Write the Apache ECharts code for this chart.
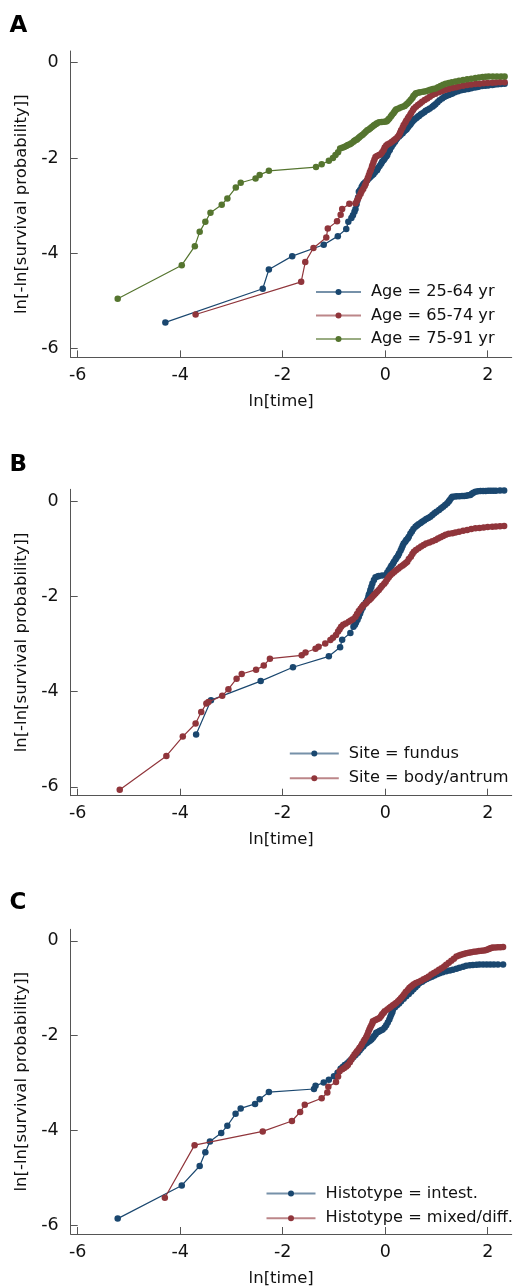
<!DOCTYPE html>
<html><head><meta charset="utf-8">
<script src="https://cdn.jsdelivr.net/npm/echarts@6/dist/echarts.min.js"></script>
<style>html,body{margin:0;padding:0;background:#fff}#c{width:516px;height:1288px}</style>
</head><body><div id="c"></div>
<script>
// ---------- tick labels ----------
const xTicks = [-6, -4, -2, 0, 2];
const yTicks = [-6, -4, -2, 0];

// ---------- Panel A: Age  ([ln(time), ln(-ln(S))] pairs) ----------
const ageYoung = [[-4.29,-5.45],[-2.39,-4.745],[-2.27,-4.34],[-1.815,-4.06],[-1.20,-3.82],[-0.925,-3.64],[-0.76,-3.49],[-0.72,-3.34],[-0.66,-3.26],[-0.63,-3.20],[-0.60,-3.13],[-0.58,-3.07],[-0.56,-2.97],[-0.545,-2.90],[-0.53,-2.83],[-0.515,-2.71],[-0.49,-2.67],[-0.46,-2.61],[-0.44,-2.57],[-0.42,-2.54],[-0.39,-2.51],[-0.35,-2.47],[-0.32,-2.43],[-0.29,-2.40],[-0.26,-2.37],[-0.23,-2.34],[-0.20,-2.30],[-0.16,-2.26],[-0.14,-2.21],[-0.11,-2.17],[-0.08,-2.12],[-0.06,-2.08],[-0.03,-2.04],[-0.01,-2.01],[0.02,-1.97],[0.04,-1.94],[0.06,-1.88],[0.09,-1.83],[0.12,-1.77],[0.14,-1.73],[0.16,-1.70],[0.19,-1.66],[0.21,-1.62],[0.23,-1.59],[0.27,-1.55],[0.30,-1.52],[0.34,-1.48],[0.37,-1.44],[0.40,-1.415],[0.42,-1.39],[0.45,-1.35],[0.48,-1.31],[0.50,-1.28],[0.53,-1.24],[0.56,-1.205],[0.58,-1.18],[0.61,-1.16],[0.64,-1.13],[0.66,-1.12],[0.69,-1.09],[0.72,-1.065],[0.76,-1.04],[0.79,-1.01],[0.83,-0.99],[0.87,-0.96],[0.92,-0.925],[0.95,-0.90],[0.98,-0.87],[1.02,-0.83],[1.06,-0.79],[1.11,-0.75],[1.15,-0.72],[1.19,-0.70],[1.24,-0.68],[1.28,-0.66],[1.31,-0.645],[1.36,-0.62],[1.42,-0.60],[1.48,-0.58],[1.53,-0.57],[1.57,-0.56],[1.62,-0.55],[1.68,-0.535],[1.75,-0.52],[1.80,-0.51],[1.83,-0.50],[1.89,-0.49],[1.95,-0.485],[2.01,-0.48],[2.09,-0.47],[2.14,-0.46],[2.20,-0.455],[2.26,-0.45],[2.33,-0.44]];

const ageMid = [[-3.70,-5.285],[-1.64,-4.60],[-1.56,-4.185],[-1.40,-3.89],[-1.15,-3.67],[-1.12,-3.48],[-0.94,-3.33],[-0.87,-3.19],[-0.84,-3.07],[-0.70,-2.96],[-0.58,-2.95],[-0.55,-2.90],[-0.53,-2.85],[-0.51,-2.81],[-0.48,-2.75],[-0.46,-2.70],[-0.43,-2.65],[-0.40,-2.59],[-0.38,-2.54],[-0.36,-2.48],[-0.34,-2.42],[-0.32,-2.36],[-0.30,-2.30],[-0.28,-2.25],[-0.26,-2.19],[-0.25,-2.15],[-0.23,-2.09],[-0.21,-2.03],[-0.19,-1.98],[-0.16,-1.96],[-0.12,-1.94],[-0.09,-1.92],[-0.06,-1.88],[-0.03,-1.83],[-0.01,-1.78],[0.02,-1.74],[0.05,-1.71],[0.09,-1.69],[0.13,-1.66],[0.17,-1.63],[0.20,-1.60],[0.24,-1.56],[0.27,-1.52],[0.29,-1.47],[0.31,-1.42],[0.34,-1.36],[0.36,-1.31],[0.39,-1.26],[0.41,-1.22],[0.44,-1.17],[0.46,-1.135],[0.49,-1.09],[0.51,-1.05],[0.54,-1.00],[0.56,-0.96],[0.60,-0.925],[0.64,-0.89],[0.68,-0.855],[0.72,-0.82],[0.77,-0.785],[0.82,-0.75],[0.87,-0.715],[0.92,-0.68],[0.98,-0.65],[1.05,-0.62],[1.11,-0.595],[1.18,-0.57],[1.24,-0.55],[1.31,-0.53],[1.38,-0.515],[1.44,-0.50],[1.52,-0.485],[1.60,-0.47],[1.68,-0.46],[1.76,-0.45],[1.84,-0.44],[1.92,-0.43],[2.00,-0.425],[2.09,-0.42],[2.16,-0.415],[2.24,-0.41],[2.33,-0.41]];

const ageOld = [[-5.22,-4.955],[-3.97,-4.25],[-3.715,-3.85],[-3.62,-3.55],[-3.51,-3.34],[-3.41,-3.15],[-3.19,-2.98],[-3.08,-2.85],[-2.915,-2.62],[-2.82,-2.52],[-2.53,-2.43],[-2.45,-2.355],[-2.27,-2.27],[-1.35,-2.19],[-1.24,-2.13],[-1.10,-2.06],[-1.02,-2.00],[-0.97,-1.94],[-0.92,-1.88],[-0.88,-1.80],[-0.84,-1.785],[-0.80,-1.77],[-0.76,-1.75],[-0.73,-1.73],[-0.69,-1.71],[-0.66,-1.69],[-0.62,-1.66],[-0.60,-1.64],[-0.57,-1.62],[-0.55,-1.61],[-0.52,-1.58],[-0.50,-1.56],[-0.47,-1.535],[-0.44,-1.51],[-0.41,-1.48],[-0.38,-1.45],[-0.35,-1.42],[-0.32,-1.40],[-0.29,-1.375],[-0.26,-1.35],[-0.23,-1.325],[-0.21,-1.31],[-0.18,-1.285],[-0.16,-1.27],[-0.12,-1.25],[-0.07,-1.245],[-0.02,-1.24],[0.02,-1.235],[0.04,-1.22],[0.06,-1.19],[0.08,-1.17],[0.11,-1.13],[0.13,-1.10],[0.16,-1.06],[0.18,-1.03],[0.20,-1.00],[0.22,-0.98],[0.26,-0.96],[0.30,-0.94],[0.34,-0.925],[0.38,-0.91],[0.41,-0.88],[0.44,-0.85],[0.47,-0.815],[0.50,-0.78],[0.53,-0.74],[0.55,-0.70],[0.58,-0.67],[0.60,-0.64],[0.64,-0.63],[0.68,-0.62],[0.74,-0.61],[0.79,-0.60],[0.84,-0.585],[0.88,-0.57],[0.93,-0.555],[0.98,-0.54],[1.03,-0.515],[1.08,-0.49],[1.13,-0.465],[1.18,-0.44],[1.24,-0.425],[1.30,-0.41],[1.37,-0.395],[1.44,-0.38],[1.52,-0.365],[1.60,-0.35],[1.68,-0.335],[1.76,-0.32],[1.83,-0.31],[1.90,-0.30],[1.96,-0.295],[2.02,-0.29],[2.10,-0.29],[2.18,-0.29],[2.26,-0.29],[2.33,-0.29]];

// ---------- Panel B: Site ----------
const siteFundus = [[-3.69,-4.90],[-3.40,-4.18],[-2.43,-3.78],[-1.80,-3.49],[-1.10,-3.26],[-0.88,-3.07],[-0.84,-2.91],[-0.68,-2.77],[-0.62,-2.64],[-0.59,-2.60],[-0.57,-2.55],[-0.54,-2.49],[-0.515,-2.43],[-0.49,-2.36],[-0.47,-2.30],[-0.44,-2.24],[-0.42,-2.185],[-0.38,-2.13],[-0.35,-2.08],[-0.33,-2.02],[-0.32,-1.97],[-0.30,-1.92],[-0.29,-1.87],[-0.27,-1.80],[-0.25,-1.73],[-0.22,-1.66],[-0.19,-1.60],[-0.15,-1.585],[-0.125,-1.575],[-0.06,-1.565],[0.01,-1.555],[0.04,-1.50],[0.07,-1.45],[0.10,-1.40],[0.12,-1.36],[0.15,-1.32],[0.17,-1.275],[0.20,-1.23],[0.22,-1.19],[0.25,-1.15],[0.27,-1.10],[0.30,-1.04],[0.32,-0.99],[0.34,-0.94],[0.36,-0.89],[0.39,-0.855],[0.41,-0.82],[0.44,-0.785],[0.46,-0.75],[0.49,-0.69],[0.52,-0.64],[0.55,-0.59],[0.59,-0.54],[0.62,-0.515],[0.65,-0.49],[0.69,-0.46],[0.72,-0.435],[0.76,-0.41],[0.80,-0.38],[0.84,-0.355],[0.88,-0.33],[0.92,-0.295],[0.96,-0.26],[1.00,-0.225],[1.05,-0.19],[1.09,-0.155],[1.13,-0.12],[1.17,-0.085],[1.21,-0.05],[1.24,-0.01],[1.26,0.02],[1.29,0.06],[1.31,0.09],[1.36,0.095],[1.40,0.10],[1.45,0.10],[1.50,0.105],[1.54,0.105],[1.58,0.11],[1.62,0.12],[1.66,0.125],[1.69,0.15],[1.72,0.17],[1.76,0.195],[1.81,0.205],[1.86,0.21],[1.91,0.21],[1.96,0.21],[2.01,0.215],[2.06,0.215],[2.11,0.215],[2.16,0.215],[2.24,0.22],[2.32,0.22]];

const siteBody = [[-5.18,-6.06],[-4.27,-5.35],[-3.95,-4.945],[-3.70,-4.67],[-3.59,-4.43],[-3.49,-4.25],[-3.45,-4.22],[-3.18,-4.09],[-3.06,-3.95],[-2.90,-3.73],[-2.80,-3.63],[-2.52,-3.54],[-2.37,-3.455],[-2.25,-3.31],[-1.63,-3.24],[-1.555,-3.18],[-1.36,-3.10],[-1.30,-3.06],[-1.17,-2.99],[-1.07,-2.92],[-1.02,-2.87],[-0.96,-2.815],[-0.92,-2.74],[-0.89,-2.69],[-0.86,-2.64],[-0.82,-2.60],[-0.77,-2.57],[-0.71,-2.535],[-0.67,-2.51],[-0.63,-2.48],[-0.58,-2.43],[-0.55,-2.37],[-0.515,-2.31],[-0.48,-2.26],[-0.45,-2.22],[-0.42,-2.185],[-0.38,-2.15],[-0.35,-2.115],[-0.31,-2.08],[-0.28,-2.045],[-0.25,-2.01],[-0.22,-1.975],[-0.19,-1.94],[-0.16,-1.905],[-0.125,-1.87],[-0.09,-1.82],[-0.06,-1.78],[-0.02,-1.735],[0.01,-1.695],[0.04,-1.645],[0.07,-1.60],[0.10,-1.56],[0.14,-1.52],[0.18,-1.485],[0.22,-1.45],[0.26,-1.415],[0.30,-1.38],[0.34,-1.355],[0.37,-1.33],[0.40,-1.30],[0.43,-1.275],[0.46,-1.22],[0.50,-1.17],[0.53,-1.115],[0.56,-1.065],[0.60,-1.03],[0.65,-0.99],[0.70,-0.955],[0.75,-0.925],[0.80,-0.895],[0.86,-0.87],[0.92,-0.845],[0.98,-0.82],[1.03,-0.79],[1.08,-0.76],[1.13,-0.735],[1.18,-0.71],[1.24,-0.69],[1.31,-0.675],[1.37,-0.66],[1.44,-0.645],[1.52,-0.625],[1.60,-0.61],[1.68,-0.59],[1.76,-0.575],[1.84,-0.565],[1.92,-0.555],[2.00,-0.545],[2.09,-0.54],[2.16,-0.535],[2.24,-0.53],[2.32,-0.525]];

// ---------- Panel C: Histotype ----------
const histIntest = [[-5.22,-5.86],[-3.97,-5.16],[-3.62,-4.75],[-3.51,-4.46],[-3.42,-4.235],[-3.20,-4.055],[-3.08,-3.90],[-2.92,-3.65],[-2.82,-3.535],[-2.54,-3.44],[-2.45,-3.34],[-2.27,-3.19],[-1.39,-3.125],[-1.36,-3.055],[-1.20,-2.99],[-1.10,-2.93],[-1.00,-2.855],[-0.93,-2.78],[-0.87,-2.70],[-0.83,-2.66],[-0.79,-2.62],[-0.74,-2.58],[-0.70,-2.54],[-0.66,-2.495],[-0.62,-2.45],[-0.58,-2.405],[-0.535,-2.36],[-0.50,-2.315],[-0.47,-2.27],[-0.43,-2.23],[-0.40,-2.185],[-0.36,-2.155],[-0.33,-2.13],[-0.30,-2.105],[-0.27,-2.08],[-0.24,-2.045],[-0.22,-2.01],[-0.19,-1.975],[-0.175,-1.94],[-0.14,-1.92],[-0.11,-1.90],[-0.08,-1.885],[-0.05,-1.87],[-0.01,-1.825],[0.02,-1.78],[0.05,-1.72],[0.08,-1.66],[0.10,-1.60],[0.12,-1.55],[0.14,-1.50],[0.15,-1.45],[0.19,-1.40],[0.23,-1.36],[0.27,-1.32],[0.31,-1.275],[0.36,-1.22],[0.41,-1.17],[0.46,-1.12],[0.51,-1.065],[0.55,-1.02],[0.59,-0.98],[0.63,-0.935],[0.67,-0.89],[0.72,-0.86],[0.76,-0.83],[0.81,-0.805],[0.86,-0.78],[0.91,-0.755],[0.96,-0.73],[1.01,-0.705],[1.06,-0.68],[1.12,-0.66],[1.19,-0.64],[1.26,-0.625],[1.32,-0.61],[1.39,-0.585],[1.45,-0.565],[1.52,-0.545],[1.58,-0.525],[1.65,-0.515],[1.71,-0.51],[1.78,-0.505],[1.84,-0.50],[1.91,-0.50],[1.98,-0.50],[2.05,-0.50],[2.12,-0.50],[2.20,-0.50],[2.30,-0.50]];

const histMixed = [[-4.30,-5.42],[-3.72,-4.31],[-2.39,-4.02],[-1.82,-3.80],[-1.66,-3.61],[-1.57,-3.46],[-1.24,-3.32],[-1.13,-3.20],[-1.11,-3.08],[-0.96,-2.98],[-0.92,-2.86],[-0.89,-2.75],[-0.84,-2.71],[-0.80,-2.68],[-0.76,-2.65],[-0.73,-2.62],[-0.69,-2.56],[-0.66,-2.50],[-0.63,-2.45],[-0.60,-2.395],[-0.57,-2.36],[-0.55,-2.33],[-0.52,-2.29],[-0.50,-2.255],[-0.47,-2.21],[-0.45,-2.17],[-0.42,-2.12],[-0.40,-2.08],[-0.37,-2.03],[-0.35,-1.98],[-0.33,-1.92],[-0.31,-1.87],[-0.29,-1.82],[-0.27,-1.78],[-0.25,-1.735],[-0.24,-1.695],[-0.20,-1.675],[-0.17,-1.66],[-0.14,-1.645],[-0.11,-1.625],[-0.08,-1.585],[-0.06,-1.55],[-0.03,-1.515],[-0.01,-1.485],[0.04,-1.45],[0.08,-1.415],[0.11,-1.39],[0.15,-1.36],[0.18,-1.335],[0.21,-1.31],[0.25,-1.275],[0.28,-1.24],[0.31,-1.205],[0.34,-1.17],[0.37,-1.125],[0.40,-1.08],[0.44,-1.035],[0.47,-0.995],[0.50,-0.965],[0.53,-0.94],[0.56,-0.915],[0.60,-0.89],[0.65,-0.865],[0.70,-0.84],[0.75,-0.81],[0.80,-0.785],[0.85,-0.75],[0.90,-0.71],[0.95,-0.675],[1.00,-0.645],[1.05,-0.61],[1.10,-0.575],[1.15,-0.54],[1.19,-0.505],[1.24,-0.46],[1.29,-0.42],[1.34,-0.375],[1.39,-0.33],[1.44,-0.31],[1.48,-0.29],[1.53,-0.275],[1.58,-0.26],[1.63,-0.25],[1.68,-0.24],[1.73,-0.23],[1.78,-0.225],[1.83,-0.215],[1.88,-0.21],[1.93,-0.20],[1.97,-0.19],[2.01,-0.175],[2.04,-0.16],[2.07,-0.15],[2.10,-0.14],[2.15,-0.14],[2.20,-0.135],[2.25,-0.135],[2.30,-0.13]];

// ---------- styling ----------
const FONT = 'DejaVu Sans';
const NAVY = '#1a476f', MAROON = '#90353b', FOREST = '#55752f';
const AXIS_COLOR = '#555';
const TEXT_SIZE = 16.5, LEGEND_SIZE = 16.2, TICK_SIZE = 17.5;

const panels = [
  { letter: 'A', letterTop: 15, top: 51,
    legend: { left: 315, top: 283.7, itemWidth: 45, itemGap: 7 },
    series: [
      { name: 'Age = 25-64 yr', data: ageYoung, color: NAVY },
      { name: 'Age = 65-74 yr', data: ageMid, color: MAROON },
      { name: 'Age = 75-91 yr', data: ageOld, color: FOREST }
    ] },
  { letter: 'B', letterTop: 453.5, top: 489.3,
    legend: { left: 288.8, top: 745.3, itemWidth: 49, itemGap: 8.2 },
    series: [
      { name: 'Site = fundus', data: siteFundus, color: NAVY },
      { name: 'Site = body/antrum', data: siteBody, color: MAROON }
    ] },
  { letter: 'C', letterTop: 892, top: 929.3,
    legend: { left: 265.5, top: 1185.3, itemWidth: 49, itemGap: 8.2 },
    series: [
      { name: 'Histotype = intest.', data: histIntest, color: NAVY },
      { name: 'Histotype = mixed/diff.', data: histMixed, color: MAROON }
    ] }
];

const option = {
  animation: false,
  backgroundColor: '#fff',
  title: [], grid: [], xAxis: [], yAxis: [], legend: [], series: []
};

panels.forEach((p, i) => {
  option.title.push({
    text: p.letter, left: 9.5, top: p.letterTop, padding: 0,
    textStyle: { fontFamily: FONT, fontSize: 23, fontWeight: 'bold', color: '#000' }
  });
  option.grid.push({ left: 70.7, top: p.top, width: 441, height: 306.4, containLabel: false });
  option.xAxis.push({
    gridIndex: i, type: 'value', min: -6.137, max: 2.468,
    axisLine: { show: true, onZero: false, lineStyle: { color: AXIS_COLOR, width: 1 } },
    axisTick: { show: true, inside: true, length: 7, customValues: xTicks, lineStyle: { color: AXIS_COLOR, width: 1 } },
    axisLabel: { customValues: xTicks, fontFamily: FONT, fontSize: TICK_SIZE, color: '#111', margin: 9 },
    splitLine: { show: false },
    name: 'ln[time]', nameLocation: 'middle', nameGap: 36,
    nameTextStyle: { fontFamily: FONT, fontSize: TEXT_SIZE, color: '#111', padding: [0, 20, 0, 0] }
  });
  option.yAxis.push({
    gridIndex: i, type: 'value', min: -6.185, max: 0.245,
    axisLine: { show: true, onZero: false, lineStyle: { color: AXIS_COLOR, width: 1 } },
    axisTick: { show: true, inside: true, length: 7, customValues: yTicks, lineStyle: { color: AXIS_COLOR, width: 1 } },
    axisLabel: { customValues: yTicks, fontFamily: FONT, fontSize: TICK_SIZE, color: '#111', margin: 12 },
    splitLine: { show: false },
    name: 'ln[-ln[survival probability]]', nameLocation: 'middle', nameGap: 40, nameRotate: 90,
    nameTextStyle: { fontFamily: FONT, fontSize: TEXT_SIZE, color: '#111' }
  });
  option.legend.push({
    data: p.series.map(s => s.name), orient: 'vertical',
    left: p.legend.left, top: p.legend.top, padding: 0,
    itemWidth: p.legend.itemWidth, itemHeight: 7.5, itemGap: p.legend.itemGap,
    selectedMode: false,
    lineStyle: { width: 2, opacity: 0.6 },
    textStyle: { fontFamily: FONT, fontSize: LEGEND_SIZE, color: '#111', lineHeight: 16.5, padding: [0, 0, 0, 5] }
  });
  p.series.forEach((s, k) => {
    option.series.push({
      name: s.name, type: 'line', xAxisIndex: i, yAxisIndex: i,
      data: s.data,
      symbol: 'circle', symbolSize: 6.5, showSymbol: true, showAllSymbol: true,
      lineStyle: { color: s.color, width: 1.2 },
      itemStyle: { color: s.color },
      emphasis: { disabled: true },
      z: 2 + k
    });
  });
});

const chart = echarts.init(document.getElementById('c'), null, { renderer: 'canvas' });
chart.setOption(option);
</script>
</body></html>
